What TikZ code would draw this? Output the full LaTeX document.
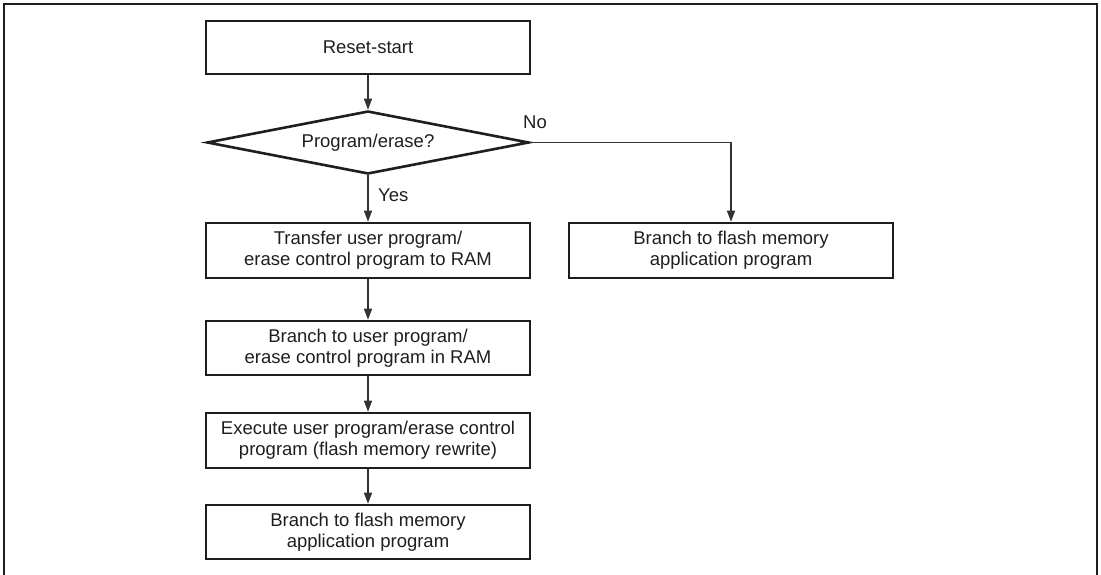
\documentclass[tikz,border=0pt]{standalone}
\usepackage{fontspec}
\setmainfont{Liberation Sans}
\usetikzlibrary{shapes.geometric,arrows.meta}
\definecolor{ink}{HTML}{1E1E1E}
\definecolor{wire}{HTML}{333333}
\begin{document}
\begin{tikzpicture}[x=1pt,y=-1pt,
  every node/.style={font=\fontsize{18.5}{21}\selectfont, text=ink},
  procbox/.style={draw=ink, line width=2.6pt, rectangle, minimum width=324pt, minimum height=54pt, inner sep=0pt, align=center},
  decision/.style={draw=ink, line width=2.6pt, diamond, aspect=5.1, minimum width=322pt, minimum height=63pt, inner sep=0pt, align=center},
  flow/.style={draw=wire, line width=1.4pt, -{Triangle[length=11pt,width=8pt]}},
  lbl/.style={inner sep=0pt}]
\useasboundingbox (0,0) rectangle (1101,575);
\draw[ink, line width=2.4pt] (4,577) -- (4,4) -- (1097,4) -- (1097,577);
\node[procbox, minimum height=53pt] (reset) at (368,47.5) {Reset-start};
\node[decision] (dec) at (368,142.5) {Program/erase?};
\node[procbox, minimum height=55pt] (transfer) at (368,250.5) {Transfer user program/\\erase control program to RAM};
\node[procbox] (branch) at (368,348) {Branch to user program/\\erase control program in RAM};
\node[procbox, minimum height=55pt] (exec) at (368,440.5) {Execute user program/erase control\\program (flash memory rewrite)};
\node[procbox] (final) at (368,532) {Branch to flash memory\\application program};
\node[procbox, minimum height=55pt] (right) at (731,250.5) {Branch to flash memory\\application program};
\coordinate (corner) at (731,142.5);
\draw[flow] (reset) -- (dec);
\draw[flow] (dec) -- (transfer);
\draw[flow] (transfer) -- (branch);
\draw[flow] (branch) -- (exec);
\draw[flow] (exec) -- (final);
\draw[flow] (dec.east) -- (corner) -- (right.north);
\node[lbl, anchor=west] (yes) at (378,195) {Yes};
\node[lbl] (no) at (535,122) {No};
\end{tikzpicture}
\end{document}
